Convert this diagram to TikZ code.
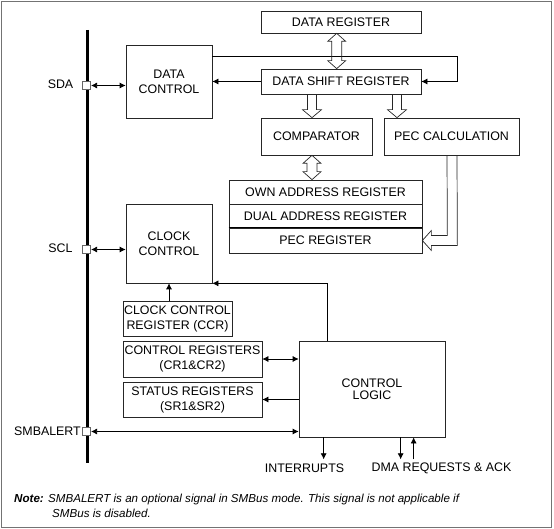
\documentclass[tikz,border=0pt]{standalone}
\usepackage{fontspec}
\setmainfont{Liberation Sans}
\usetikzlibrary{arrows.meta,calc}
\newcommand{\hvdown}[2]{\draw[hol] let \p1=#1, \p2=#2 in (\x1-4.5pt,\y1) -- (\x1-4.5pt,\y2+8pt) -- (\x1-9.5pt,\y2+8pt) -- (\x1,\y2) -- (\x1+9.5pt,\y2+8pt) -- (\x1+4.5pt,\y2+8pt) -- (\x1+4.5pt,\y1);}
\newcommand{\hvboth}[2]{\draw[hol] let \p1=#1, \p2=#2 in (\x1,\y1) -- (\x1-9pt,\y1-8pt) -- (\x1-5pt,\y1-8pt) -- (\x1-5pt,\y2+8pt) -- (\x1-9pt,\y2+8pt) -- (\x1,\y2) -- (\x1+9pt,\y2+8pt) -- (\x1+5pt,\y2+8pt) -- (\x1+5pt,\y1-8pt) -- (\x1+9pt,\y1-8pt) -- cycle;}
\begin{document}
\begin{tikzpicture}[x=1pt,y=-1pt, font=\fontsize{12.4}{15}\selectfont,
 box/.style={draw=black!85, line width=0.7pt, inner sep=0pt, align=center},
 arr/.style={-{Latex[length=6pt,width=6pt]}, line width=0.7pt},
 arrb/.style={{Latex[length=6pt,width=6pt]}-{Latex[length=6pt,width=6pt]}, line width=0.7pt},
 hol/.style={draw=black!85, line width=0.7pt},
 pin/.style={draw=black!60, fill=white, minimum size=8pt, inner sep=0pt, line width=0.7pt},
 lbl/.style={inner sep=0pt}]
\useasboundingbox (0,0) rectangle (554,529);
\draw[black!55, line width=1.5pt] (1.5,1.5) rectangle (551.5,527.5);

% boxes
\node[box, minimum width=86pt, minimum height=73pt] (dc) at (169,81.5) {DATA\\CONTROL};
\node[box, minimum width=160pt, minimum height=22pt] (dr) at (341,22) {DATA REGISTER};
\node[box, minimum width=160pt, minimum height=25pt] (dsr) at (341,81.5) {DATA SHIFT REGISTER};
\node[box, minimum width=111pt, minimum height=37pt] (cmp) at (316.5,136.5) {COMPARATOR};
\node[box, minimum width=135pt, minimum height=37pt] (pec) at (451.5,136.5) {PEC CALCULATION};
\node[box, minimum width=193pt, minimum height=24pt] (own) at (325.5,192) {OWN ADDRESS REGISTER};
\node[box, minimum width=193pt, minimum height=24pt] (dual) at (325.5,216) {DUAL ADDRESS REGISTER};
\node[box, minimum width=193pt, minimum height=25pt] (pecreg) at (325.5,240.5) {PEC REGISTER};
\draw[line width=0.9pt] (pecreg.north west) -- (pecreg.north east);
\node[box, minimum width=86pt, minimum height=79pt] (cc) at (169,243.5) {CLOCK\\CONTROL};
\node[box, minimum width=109pt, minimum height=35pt] (ccr) at (177.5,318.5) {CLOCK CONTROL\\REGISTER (CCR)};
\node[box, minimum width=139pt, minimum height=36pt] (crg) at (192.5,359) {CONTROL REGISTERS\\(CR1\&CR2)};
\node[box, minimum width=139pt, minimum height=35pt] (srg) at (192.5,399.5) {STATUS REGISTERS\\(SR1\&SR2)};
\node[box, minimum width=146pt, minimum height=96pt, font=\fontsize{12.4}{12.5}\selectfont] (cl) at (372,389) {CONTROL\\LOGIC};

% bus and pins
\coordinate (bustop) at (87,30);
\coordinate (busbot) at (87,463);
\draw[line width=3pt] (bustop) -- (busbot);
\node[pin] (sda) at (86.7,85.5) {};
\node[pin] (scl) at (86.7,249.5) {};
\node[pin] (smb) at (86.7,431.5) {};
\node[lbl] (sdal) at (60.5,84.5) {SDA};
\node[lbl] (scll) at (60.5,248.5) {SCL};
\node[lbl, anchor=east] (smbl) at (81,431) {SMBALERT};

% connectors
\draw[arrb] (sda.east) -- (sda.east -| dc.west);
\draw[arrb] (scl.east) -- (scl.east -| cc.west);
\draw[arrb] (smb.east) -- (smb.east -| cl.west);
\draw[arr] (dsr.west) -- (dsr.west -| dc.east);
\draw[arr] ($(dc.north east)+(0,12)$) -| ($(dsr.east)+(36,0)$) -- (dsr.east);
\draw[arr] ($(cl.north west)+(29,0)$) |- (cc.south east);
\draw[arr] (ccr.north -| cc.south) -- (cc.south);
\draw[arrb] (crg.east) -- (crg.east -| cl.west);
\draw[arr] (srg.east -| cl.west) -- (srg.east);

\node[lbl] (intl) at (304.5,468) {INTERRUPTS};
\node[lbl] (dmal) at (441.5,468) {DMA REQUESTS \& ACK};
\draw[arr] ($(cl.south west)+(25,0)$) -- ++(0,22);
\draw[arr] ($(cl.south west)+(102,0)$) -- ++(0,22);
\draw[arr] ($(cl.south west)+(115,22)$) -- ++(0,-22);

% hollow arrows
\hvboth{($(dr.south)+(-4.3,0)$)}{($(dsr.north)+(-4.3,0)$)}
\hvdown{(312,0 |- dsr.south)}{(312,0 |- cmp.north)}
\hvdown{(397,0 |- dsr.south)}{(397,0 |- pec.north)}
\hvboth{(312,0 |- cmp.south)}{(312,0 |- own.north)}
\draw[hol] (447,0 |- pec.south) -- ($(pecreg.east)+(25,-5)$) -- ++(-16,0) -- ++(0,-5) -- (pecreg.east) -- ++(9,10) -- ++(0,-5) -- ($(pecreg.east)+(35,5)$) -- (457,0 |- pec.south);

% note
\node[lbl, anchor=west, font=\fontsize{11.6}{12}\selectfont\itshape] (note1) at (14,499.5) {\textbf{Note:} SMBALERT is an optional signal in SMBus mode. This signal is not applicable if};
\node[lbl, anchor=west, font=\fontsize{11.6}{12}\selectfont\itshape] (note2) at (52,513) {SMBus is disabled.};
\end{tikzpicture}
\end{document}
